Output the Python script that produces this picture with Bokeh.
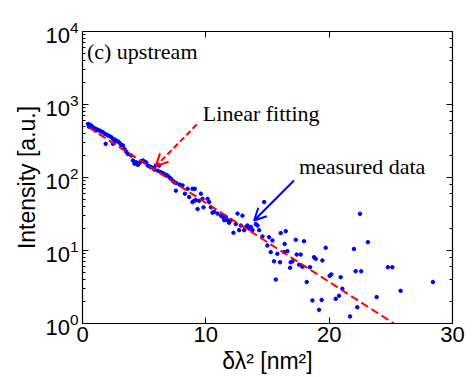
from bokeh.plotting import figure
from bokeh.models import (LinearAxis, LogAxis, Label, Arrow, OpenHead, ColumnDataSource,
                          FixedTicker)
from bokeh.embed import file_html
from bokeh.resources import INLINE

# measured data (delta lambda^2 [nm^2], intensity [a.u.])
meas_x = [0.45, 0.58, 0.72, 0.53, 0.80, 0.99, 1.12, 1.26, 1.39, 1.07, 1.53, 1.66, 1.80, 1.93,
          2.07, 2.20, 2.34, 2.47, 2.60, 2.74, 2.88, 1.88, 3.01, 3.14, 3.28, 3.41, 2.47, 2.60,
          3.55, 3.68, 3.95, 4.09, 4.22, 4.36, 4.49, 4.63, 4.76, 4.90,
          5.03, 5.17, 5.28, 5.44, 5.55, 5.71, 5.84, 5.95, 6.11, 6.22, 6.36, 6.52, 6.63, 6.79,
          6.90, 7.06, 7.17, 7.33, 7.44, 7.57, 7.60, 7.87,
          8.11, 8.30, 8.52, 8.92, 9.11, 8.65, 8.92, 9.06, 9.19, 9.33, 9.46, 9.60, 9.73, 9.81,
          10.14, 10.27, 10.41, 10.54, 10.68, 10.95, 11.22, 11.35, 11.49, 11.62, 11.76, 11.89,
          12.03, 12.24, 12.43, 12.57, 12.70, 12.84, 12.97, 13.11, 13.24, 13.38, 13.51, 13.65,
          13.78, 14.05, 14.19, 14.32, 14.73,
          14.59, 15.13, 15.40, 14.99, 16.07, 16.48, 16.39, 15.26, 15.80, 15.53, 16.02, 16.34,
          16.61, 15.67, 16.88, 17.02, 16.83, 17.29, 17.37, 17.69, 17.56, 17.96, 17.83, 18.18,
          18.45, 18.77, 18.91, 18.64, 19.45, 19.39, 19.18, 19.72, 20.04, 20.17, 20.53, 20.80,
          20.93, 21.07, 21.69, 22.01, 22.15, 22.60, 22.28, 23.14,
          22.50, 24.76, 25.12, 23.85, 25.79, 28.41]
meas_y = [540, 530, 515, 495, 495, 470, 460, 448, 438, 440, 426, 417, 396, 388,
          376, 368, 356, 338, 331, 321, 311, 289, 298, 280, 274, 245, 290, 306,
          225, 210, 200, 171, 154, 162, 149, 159, 166, 171,
          165, 160, 146, 142, 139, 135, 128, 146, 124, 146, 118, 114, 112, 108,
          106, 100, 96, 90, 86, 66, 84, 80,
          78, 60, 70, 70, 70, 54, 46, 48, 49, 37, 48, 60, 51, 39,
          51, 46, 39, 33, 34, 32, 30, 29, 26, 29, 26, 24,
          26, 17.5, 23, 32, 19, 22, 30, 19, 21, 22, 20, 21,
          19, 23, 22, 19, 46,
          15.6, 15.2, 13.7, 11.7, 17.3, 18.4, 12.3, 9.5, 9.0, 7.1, 6.9, 9.5,
          9.8, 4.0, 6.9, 7.1, 5.8, 14, 8.8, 8.8, 6.4, 13.4, 6.0, 3.7,
          5.9, 8.1, 7.7, 2.07, 7.3, 2.1, 1.54, 10.9, 4.5, 4.7, 2.18, 2.4,
          4.3, 3.0, 1.25, 10.5, 5.2, 5.2, 1.67, 13,
          31.8, 5.9, 5.9, 2.3, 2.8, 3.7]

# linear fit (straight line in log scale)
fit_x = [0.5, 25.25]
fit_y = [485, 1.0]

x_ticks = [0, 10, 20, 30]

p = figure(width=472, height=377, x_range=(0, 30), y_range=(1, 10000),
           y_axis_type="log", output_backend="svg", toolbar_location=None,
           min_border_left=82, min_border_top=31, min_border_right=20, min_border_bottom=54)
p.background_fill_color = "white"
p.border_fill_color = "white"
p.outline_line_color = "black"
p.outline_line_width = 1.2
p.grid.visible = False

tick_font = "Liberation Sans"
for ax in [p.xaxis[0], p.yaxis[0]]:
    ax.major_tick_in = 6
    ax.major_tick_out = 0
    ax.minor_tick_in = 3
    ax.minor_tick_out = 0
    ax.axis_line_color = "black"
    ax.major_label_text_font = tick_font
    ax.major_label_text_font_size = "22px"
    ax.major_label_text_color = "black"
    ax.axis_label_text_font = tick_font
    ax.axis_label_text_font_size = "23px"
    ax.axis_label_text_font_style = "normal"
    ax.axis_label_text_color = "black"

p.xaxis.ticker = FixedTicker(ticks=x_ticks)
p.xaxis.minor_tick_line_color = None
p.xaxis.major_label_standoff = 3
p.xaxis.axis_label_standoff = 3
p.xaxis.axis_label = "δλ² [nm²]"

p.yaxis.major_label_standoff = 4
p.yaxis.axis_label_standoff = 2
p.yaxis.axis_label = "Intensity [a.u.]"

# mirrored tick marks on top and right (no labels)
top = LinearAxis(ticker=FixedTicker(ticks=x_ticks), major_tick_in=6, major_tick_out=0,
                 minor_tick_line_color=None, major_label_text_font_size="1px",
                 major_label_text_color=None, major_label_standoff=0,
                 axis_label_standoff=0)
p.add_layout(top, "above")
right = LogAxis(major_tick_in=6, major_tick_out=0, minor_tick_in=3, minor_tick_out=0,
                major_label_text_font_size="1px", major_label_text_color=None,
                major_label_standoff=0, axis_label_standoff=0)
p.add_layout(right, "right")

src = ColumnDataSource(data=dict(x=meas_x, y=meas_y))
p.scatter("x", "y", source=src, marker="circle", size=3.5, color="#0000ff")
p.line(fit_x, fit_y, line_color="#ff0000", line_width=2, line_dash="8 4")

serif = "Liberation Serif"
p.add_layout(Label(x=0.36, y=5270, text="(c) upstream", text_font=serif,
                   text_font_size="22px", text_baseline="alphabetic", text_color="black"))
p.add_layout(Label(x=9.76, y=759, text="Linear fitting", text_font=serif,
                   text_font_size="22px", text_baseline="alphabetic", text_color="black"))
p.add_layout(Label(x=17.55, y=141.6, text="measured data", text_font=serif,
                   text_font_size="22px", text_baseline="alphabetic", text_color="black"))

p.add_layout(Arrow(x_start=9.27, y_start=532, x_end=5.95, y_end=143,
                   line_color="#ff0000", line_width=2, line_dash="6 3",
                   end=OpenHead(size=12, line_color="#ff0000", line_width=2)))
p.add_layout(Arrow(x_start=17.15, y_start=91, x_end=13.91, y_end=25.8,
                   line_color="#0000ff", line_width=2,
                   end=OpenHead(size=12, line_color="#0000ff", line_width=2)))

open("out.html", "w").write(file_html(p, INLINE))
